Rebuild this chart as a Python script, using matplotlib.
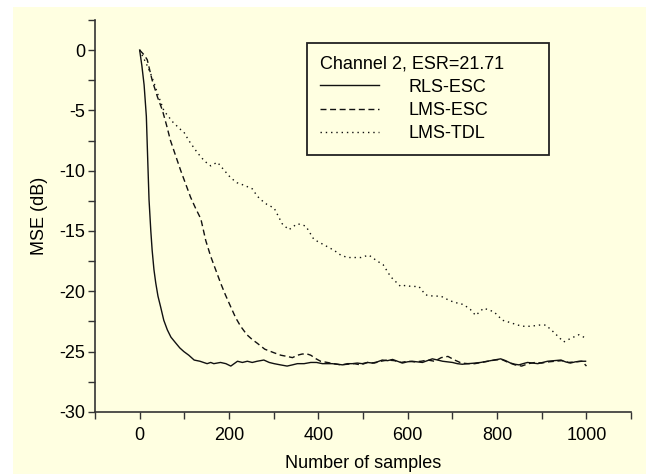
import matplotlib

matplotlib.use("Agg")
import matplotlib.pyplot as plt
import matplotlib.patches as mpatches

plt.rcParams["font.family"] = ["Liberation Sans", "DejaVu Sans"]
plt.rcParams["axes.unicode_minus"] = False

BG = "#ffffe1"
INK = "#111111"

# RLS-ESC (solid)
rls_n = [0, 5, 10, 15, 18, 21, 25, 28, 32, 36, 41, 47, 54, 62, 70, 81, 90, 99,
         110, 122, 135, 151, 159, 166, 181, 193, 204, 219, 230, 241, 252, 263,
         278, 290, 301, 315, 330, 342, 353, 368, 383, 396, 409, 420, 431, 443,
         454, 465, 476, 487, 498, 510, 521, 532, 543, 555, 566, 577, 588, 599,
         610, 621, 633, 644, 655, 667, 678, 689, 700, 711, 722, 735, 748, 763,
         778, 793, 808, 819, 830, 840, 849, 858, 868, 880, 891, 902, 913, 928,
         943, 953, 964, 975, 986, 998]
rls_db = [0, -1.3, -2.9, -5.5, -9.0, -12.4, -15.0, -16.6, -18.2, -19.3, -20.4,
          -21.3, -22.4, -23.2, -23.8, -24.3, -24.7, -25.0, -25.3, -25.7, -25.8,
          -26.0, -25.9, -26.0, -25.9, -26.0, -26.2, -25.8, -25.9, -25.8, -25.9,
          -25.8, -25.7, -25.9, -26.0, -26.1, -26.2, -26.1, -26.0, -26.0, -25.9,
          -25.9, -26.0, -26.0, -26.0, -26.05, -26.1, -26.0, -26.0, -25.95,
          -26.0, -25.9, -25.95, -25.85, -25.7, -25.75, -25.65, -25.8, -25.95,
          -25.85, -25.8, -25.85, -25.9, -25.75, -25.6, -25.7, -25.8, -25.85,
          -25.9, -26.0, -26.05, -26.0, -25.96, -25.9, -25.8, -25.7, -25.6,
          -25.75, -25.95, -26.05, -26.1, -26.0, -25.9, -25.95, -26.0, -25.9,
          -25.8, -25.75, -25.7, -25.85, -25.95, -25.85, -25.8, -25.8]

# LMS-ESC (dashed)
lmsesc_n = [0, 10, 17, 28, 40, 51, 60, 69, 80, 92, 103, 114, 125, 137, 148,
            159, 170, 181, 192, 204, 215, 226, 240, 252, 263, 280, 301, 316,
            330, 342, 353, 364, 375, 383, 395, 405, 420, 435, 450, 465, 480,
            495, 510, 525, 540, 555, 570, 585, 600, 615, 630, 645, 660, 675,
            690, 705, 720, 735, 750, 765, 780, 795, 810, 825, 840, 855, 870,
            885, 900, 915, 930, 945, 960, 975, 990, 1000]
lmsesc_db = [0, -0.4, -0.8, -2.5, -3.9, -5.0, -6.2, -7.5, -8.7, -10.0, -11.1,
             -12.2, -13.1, -14.0, -15.8, -17.1, -18.2, -19.3, -20.3, -21.3,
             -22.2, -22.9, -23.6, -24.0, -24.3, -24.8, -25.1, -25.3, -25.4,
             -25.5, -25.3, -25.2, -25.2, -25.3, -25.6, -25.8, -25.9, -26.0,
             -26.1, -26.05, -26.0, -26.1, -25.9, -25.95, -25.8, -25.7, -25.75,
             -25.9, -25.8, -25.85, -25.8, -25.7, -25.8, -25.5, -25.4, -25.7,
             -25.95, -26.0, -26.0, -25.9, -25.8, -25.7, -25.65, -25.9, -26.1,
             -26.2, -26.0, -25.9, -25.95, -25.85, -25.8, -25.75, -25.9, -25.85,
             -25.8, -26.2]

# LMS-TDL (dotted)
lmstdl_n = [0, 8, 17, 25, 32, 40, 47, 54, 62, 75, 92, 99, 110, 129, 145, 159,
            174, 190, 204, 218, 233, 252, 263, 271, 285, 301, 319, 334, 345,
            353, 364, 372, 390, 405, 420, 435, 450, 465, 480, 495, 513, 532,
            545, 562, 584, 596, 607, 625, 640, 657, 674, 690, 703, 725, 740,
            752, 770, 793, 812, 830, 846, 860, 875, 895, 909, 927, 949, 965,
            983, 994, 1000]
lmstdl_db = [0, -0.6, -1.3, -2.0, -2.7, -3.6, -4.3, -5.0, -5.4, -6.0, -6.6,
             -6.8, -7.5, -8.5, -9.2, -9.6, -9.3, -10.0, -10.6, -11.0, -11.2,
             -11.5, -12.1, -12.4, -12.8, -13.1, -14.4, -14.9, -14.6, -14.4,
             -14.5, -14.6, -15.7, -16.0, -16.3, -16.6, -17.0, -17.2, -17.2,
             -17.2, -17.0, -17.5, -17.8, -18.8, -19.6, -19.5, -19.6, -19.6,
             -20.3, -20.4, -20.4, -20.7, -20.9, -21.1, -21.5, -22.0, -21.4,
             -21.7, -22.4, -22.6, -22.8, -22.9, -22.9, -22.8, -22.8, -23.4,
             -24.2, -23.9, -23.6, -23.8, -23.9]

x_ticks = [0, 200, 400, 600, 800, 1000]
y_ticks = [0, -5, -10, -15, -20, -25, -30]


def main():
    fig = plt.figure(figsize=(6.46, 4.74), dpi=100, facecolor="white")
    # yellow panel behind everything, leaves a thin white strip top/left
    fig.patches.append(mpatches.Rectangle((0.02, 0), 0.98, 0.985,
                                          transform=fig.transFigure,
                                          facecolor=BG, edgecolor="none",
                                          zorder=-10))
    ax = fig.add_axes([0.147, 0.131, 0.83, 0.827])
    ax.set_facecolor(BG)

    ax.plot(rls_n, rls_db, color=INK, lw=1.0, ls="-", label="RLS-ESC")
    ax.plot(lmsesc_n, lmsesc_db, color=INK, lw=1.0, ls=(0, (4.3, 2.6)),
            label="LMS-ESC")
    ax.plot(lmstdl_n, lmstdl_db, color=INK, lw=1.0, ls=(0, (1, 2.8)),
            label="LMS-TDL")

    ax.set_xlim(-100, 1100)
    ax.set_ylim(-30, 2.5)
    ax.set_xticks(x_ticks)
    ax.set_yticks(y_ticks)
    ax.set_xticks(range(-100, 1101, 200), minor=True)
    ax.set_yticks([2.5 - 5 * i for i in range(7)], minor=True)

    for side in ("top", "right"):
        ax.spines[side].set_visible(False)
    for side in ("left", "bottom"):
        ax.spines[side].set_color("#333333")
        ax.spines[side].set_linewidth(1.2)
    ax.tick_params(which="both", direction="out", length=5, width=1.0,
                   color="#333333", labelsize=13)
    ax.tick_params(axis="x", pad=6)
    ax.tick_params(axis="y", pad=2)

    ax.set_xlabel("Number of samples", fontsize=13, labelpad=8)
    ax.set_ylabel("MSE (dB)", fontsize=13, labelpad=8)

    # box spans x 307..548 px, top edge ~43 px
    leg = ax.legend(title="Channel 2, ESR=21.71", loc="upper left",
                    bbox_to_anchor=(0.3955, 0.5, 0.4515, 0.441),
                    mode="expand",
                    prop={"family": "Liberation Sans", "size": 13},
                    title_fontproperties={"family": "Liberation Sans",
                                          "size": 13},
                    alignment="left", frameon=True,
                    fancybox=False, handlelength=3.3, handletextpad=1.6,
                    labelspacing=0.34, borderpad=0.7, borderaxespad=0)
    leg.get_frame().set_edgecolor("#222222")
    leg.get_frame().set_linewidth(1.3)
    leg.get_frame().set_facecolor(BG)
    leg.get_frame().set_alpha(1)

    fig.savefig("out.png", dpi=100, facecolor="white")
    plt.close(fig)


if __name__ == "__main__":
    main()
